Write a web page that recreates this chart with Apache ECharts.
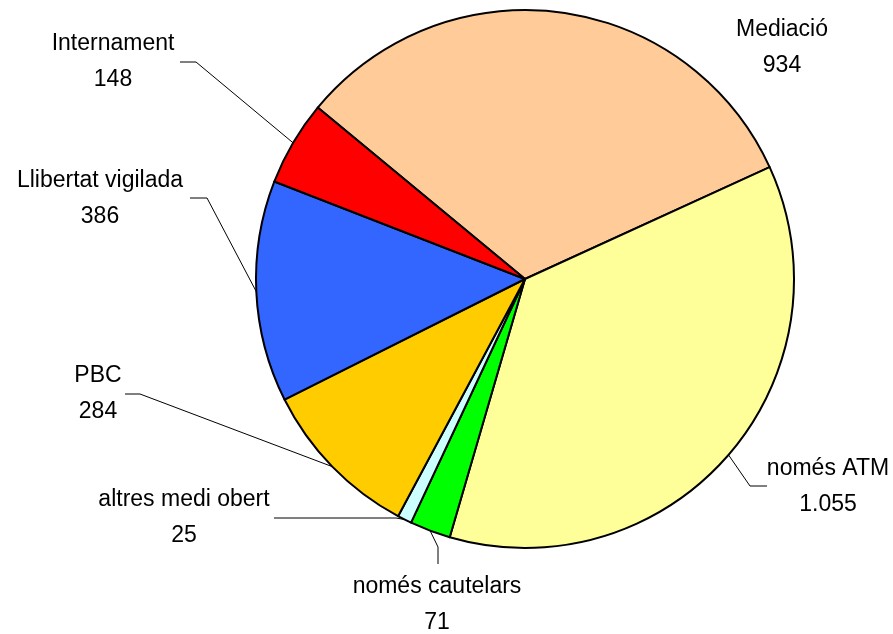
<!DOCTYPE html>
<html>
<head>
<meta charset="utf-8">
<script src="https://cdn.jsdelivr.net/npm/echarts@6/dist/echarts.min.js"></script>
<style>
  html, body { margin: 0; padding: 0; background: #fff; }
  #chart { width: 893px; height: 634px; }
</style>
</head>
<body>
<div id="chart"></div>
<script>
// dades del gràfic
var categories = ['Mediació', 'només ATM', 'només cautelars', 'altres medi obert', 'PBC', 'Llibertat vigilada', 'Internament']
var values = [934, 1055, 71, 25, 284, 386, 148]
var colors = ['#FFCC99', '#FFFF99', '#00FF00', '#CCFFFF', '#FFCC00', '#3366FF', '#FF0000']

// posicions de les etiquetes (centre del bloc) i punts de les línies guia
var labelPos = [
  { x: 782, y: 47.5 },
  { x: 828, y: 486.5, line: [[750, 486], [767, 486]] },
  { x: 437, y: 604.5, line: [[438, 547], [438, 564]] },
  { x: 184, y: 517.5, line: [[396, 518], [274, 518]] },
  { x: 98, y: 393.5, line: [[140, 394], [125, 394]] },
  { x: 100, y: 198.5, line: [[207, 198], [190, 198]] },
  { x: 113, y: 61.5, line: [[196, 62], [180, 62]] }
]

function fmt(v) {
  return String(v).replace(/\B(?=(\d{3})+(?!\d))/g, '.')
}

var chart = echarts.init(document.getElementById('chart'))

var option = {
  animation: false,
  backgroundColor: '#fff',
  series: [{
    type: 'pie',
    center: [525, 279],
    radius: 269,
    startAngle: 140.4,
    clockwise: true,
    avoidLabelOverlap: false,
    itemStyle: {
      borderColor: '#000',
      borderWidth: 2
    },
    label: {
      show: true,
      color: '#000',
      fontFamily: "'Liberation Sans', Arial, sans-serif",
      fontSize: 23,
      lineHeight: 36,
      align: 'center',
      formatter: function (p) { return p.name + '\n' + fmt(p.value) }
    },
    labelLine: {
      show: true,
      lineStyle: { color: '#000', width: 1 }
    },
    labelLayout: function (params) {
      var cfg = labelPos[params.dataIndex]
      var res = { x: cfg.x, y: cfg.y, align: 'center', verticalAlign: 'middle' }
      if (cfg.line && params.labelLinePoints) {
        res.labelLinePoints = [params.labelLinePoints[0], cfg.line[0], cfg.line[1]]
      }
      return res
    },
    data: categories.map(function (c, i) {
      var d = { name: c, value: values[i], itemStyle: { color: colors[i] } }
      if (!labelPos[i].line) d.labelLine = { show: false }
      return d
    })
  }]
}

chart.setOption(option)
</script>
</body>
</html>
